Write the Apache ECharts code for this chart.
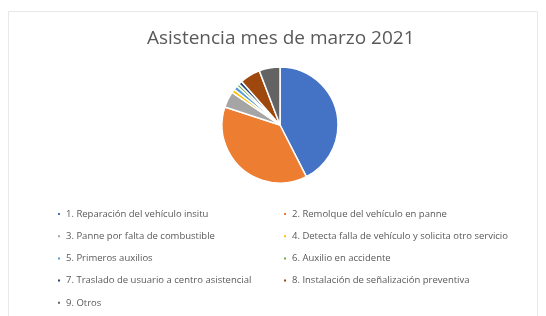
<!DOCTYPE html>
<html>
<head>
<meta charset="utf-8">
<script src="https://cdn.jsdelivr.net/npm/echarts@6/dist/echarts.min.js"></script>
<style>
  html, body { margin: 0; padding: 0; background: #fff; }
  #chart { width: 546px; height: 316px; }
</style>
</head>
<body>
<div id="chart"></div>
<script>
// datos del gráfico
var categories = [
  '1. Reparación del vehículo insitu',
  '2. Remolque del vehículo en panne',
  '3. Panne por falta de combustible',
  '4. Detecta falla de vehículo y solicita otro servicio',
  '5. Primeros auxilios',
  '6. Auxilio en accidente',
  '7. Traslado de usuario a centro asistencial',
  '8. Instalación de señalización preventiva',
  '9. Otros'
];
var values = [42.5, 37.5, 4.5, 1.0, 1.2, 0.8, 1.0, 5.7, 5.8];
var colors = ['#4472C4', '#ED7D31', '#A5A5A5', '#FFC000', '#5B9BD5', '#70AD47', '#264478', '#9E480E', '#636363'];

var leftItems = categories.filter(function (c, i) { return i % 2 === 0; });
var rightItems = categories.filter(function (c, i) { return i % 2 === 1; });

var chart = echarts.init(document.getElementById('chart'));

var legendBase = {
  orient: 'vertical',
  top: 204,
  height: 120,
  itemWidth: 4,
  itemHeight: 4,
  itemGap: 12.2,
  icon: 'rect',
  textStyle: { fontFamily: 'Open Sans', fontSize: 9.5, color: '#595959' }
};

var option = {
  backgroundColor: '#fff',
  color: colors,
  animation: false,
  title: {
    text: 'Asistencia mes de marzo 2021',
    left: 142,
    top: 24,
    textStyle: { fontFamily: 'Open Sans', fontSize: 19, fontWeight: 'normal', color: '#595959' }
  },
  graphic: [{
    type: 'rect',
    shape: { x: 8.5, y: 11.5, width: 529, height: 310 },
    style: { fill: 'none', stroke: '#e8e8e8', lineWidth: 1 },
    silent: true
  }],
  legend: [
    Object.assign({}, legendBase, { left: 51, data: leftItems }),
    Object.assign({}, legendBase, { left: 277, data: rightItems })
  ],
  series: [{
    type: 'pie',
    center: [280, 125],
    radius: 58,
    startAngle: 90,
    clockwise: true,
    label: { show: false },
    labelLine: { show: false },
    itemStyle: { borderColor: '#fff', borderWidth: 1.5 },
    data: categories.map(function (c, i) { return { name: c, value: values[i] }; })
  }]
};

chart.setOption(option);
</script>
</body>
</html>
